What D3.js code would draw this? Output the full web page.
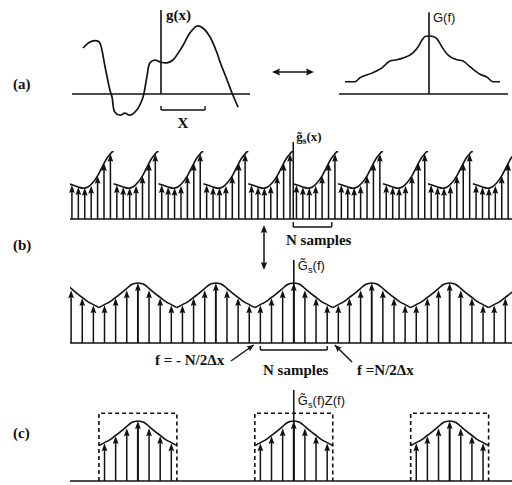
<!DOCTYPE html>
<html><head><meta charset="utf-8">
<script src="https://cdn.jsdelivr.net/npm/d3@7"></script>
<style>body{margin:0;background:#fff} svg{display:block}</style>
</head><body>
<svg id="c" width="512" height="485"></svg>
<script>
// ---------- data ----------
// (a) g(x): x in units of X, amplitude in arbitrary units
const gCurve = [[-1.77,1.15],[-1.61,1.30],[-1.45,1.33],[-1.39,1.28],[-1.27,0.68],[-1.16,0.10],[-1.11,-0.08],
  [-1.05,-0.45],[-0.93,-0.53],[-0.82,-0.48],[-0.70,-0.53],[-0.55,-0.40],[-0.43,-0.15],[-0.39,0],[-0.32,0.43],
  [-0.25,0.78],[-0.14,0.85],[-0.02,0.80],[0.14,0.78],[0.27,0.85],[0.48,1.18],[0.66,1.53],[0.82,1.70],[0.95,1.65],
  [1.11,1.43],[1.27,1.03],[1.34,0.80],[1.50,0.35],[1.61,0.03],[1.75,-0.33]];
// (a) G(f): normalised magnitude
const GCurve = [[-8.4,0.21],[-7.4,0.21],[-6.9,0.28],[-5.7,0.36],[-4.7,0.45],[-3.9,0.57],[-3.2,0.59],[-2.6,0.62],
  [-1.6,0.71],[-1.1,0.81],[-0.7,0.93],[-0.4,0.99],[0,1.0],[0.4,0.99],[0.8,0.95],[1.3,0.81],[1.8,0.69],[2.8,0.59],
  [3.4,0.57],[4.1,0.47],[5.1,0.34],[5.8,0.29],[6.4,0.21],[7.1,0.21]];
// (b) sampled, periodic g~s(x): N = 7 samples per period
const gsSamples = [0.85, 0.80, 0.78, 0.83, 1.08, 1.40, 1.63];
const gsPeriodCurve = [[0,0.88],[0.6,0.85],[1.5,0.80],[2.3,0.77],[3.0,0.80],[3.7,0.90],[4.5,1.08],[5.3,1.33],
  [6.0,1.53],[6.5,1.63],[6.8,1.68],[7.0,1.68]];
const gsPeriods = [-5,-4,-3,-2,-1,0,1,2,3,4];
// (b) G~s(f): samples of one period (offsets -3..3) and lobe envelope
const GsSamples = [0.63, 0.75, 0.88, 1.0, 0.88, 0.75, 0.63];
const GsLobe = [[-3.5,0.59],[-3,0.64],[-2.5,0.69],[-2,0.76],[-1.5,0.83],[-1,0.91],[-0.6,0.97],[-0.3,0.993],[0,1.0],
  [0.3,0.993],[0.6,0.97],[1,0.91],[1.5,0.83],[2,0.76],[2.5,0.69],[3,0.64],[3.5,0.59]];
const GsPeriods = [-3,-2,-1,0,1,2,3];
// (c) periods kept by Z(f)
const keptPeriods = [-2, 0, 2];
const boxHeight = 1.13;
const panelLabels = ["(a)", "(b)", "(c)"];

// ---------- drawing ----------
const svg = d3.select("#c");
svg.append("rect").attr("width",512).attr("height",485).attr("fill","#fff");
const ink = "#111";
const serif = "'Liberation Serif','Times New Roman',serif";
const sans = "'Liberation Sans',Arial,sans-serif";
const N = 7;
const mod = (a,b)=>((a%b)+b)%b;
const smooth = d3.line().curve(d3.curveCatmullRom.alpha(0.5));
const mono = d3.line().curve(d3.curveMonotoneX);

const defs = svg.append("defs");
defs.append("clipPath").attr("id","clipX").append("rect").attr("x",70).attr("y",0).attr("width",442).attr("height",485);

function hline(g,x0,x1,y,w){g.append("line").attr("x1",x0).attr("x2",x1).attr("y1",y).attr("y2",y).attr("stroke",ink).attr("stroke-width",w||1.6);}
function vline(g,x,y0,y1,w){g.append("line").attr("x1",x).attr("x2",x).attr("y1",y0).attr("y2",y1).attr("stroke",ink).attr("stroke-width",w||1.4);}
function head(g,x,y,angle,len,hw){
  const c=Math.cos(angle), s=Math.sin(angle);
  const bx=x-c*len, by=y-s*len;
  const pts=[[x,y],[bx-s*hw,by+c*hw],[bx+c*1.2,by+s*1.2],[bx+s*hw,by-c*hw]];
  g.append("path").attr("d","M"+pts.map(p=>p.join(",")).join("L")+"Z").attr("fill",ink);
}
function stem(g,x,yBase,yTip,w){
  vline(g,x,yBase,yTip+5,w||1.5);
  head(g,x,yTip,-Math.PI/2,8,2.9);
}
function pointer(g,x0,y0,x1,y1){
  g.append("line").attr("x1",x0).attr("y1",y0).attr("x2",x1).attr("y2",y1).attr("stroke",ink).attr("stroke-width",1.4);
  head(g,x1,y1,Math.atan2(y1-y0,x1-x0),7,3);
}
function label(txt,x,y,font,size,anchor){
  return svg.append("text").attr("x",x).attr("y",y).attr("font-family",font).attr("font-size",size)
    .attr("font-weight","bold").attr("fill",ink).attr("text-anchor",anchor||"start").text(txt);
}
function subLabel(main,sub,rest,x,y,font,size,weight){
  const t=svg.append("text").attr("x",x).attr("y",y).attr("font-family",font).attr("font-size",size)
    .attr("font-weight",weight).attr("fill",ink);
  t.append("tspan").text(main);
  t.append("tspan").attr("dy",3).attr("font-size",size*0.72).text(sub);
  t.append("tspan").attr("dy",-3).text(rest);
  return t;
}

// panel labels
label(panelLabels[0],13,89,serif,15);
label(panelLabels[1],13,250,serif,15);
label(panelLabels[2],13,438,serif,15);

// ----- (a) left: g(x)
const ga=svg.append("g");
const xa=d3.scaleLinear().domain([-2.02,2.02]).range([72,250]);
const ya=d3.scaleLinear().domain([0,1]).range([94,54]);
hline(ga,xa(-2.02),xa(2.02),ya(0),1.6);
vline(ga,xa(0),ya(0),ya(2.1),1.6);
ga.append("path").attr("d",smooth(gCurve.map(d=>[xa(d[0]),ya(d[1])]))).attr("fill","none").attr("stroke",ink).attr("stroke-width",1.7);
const by=ya(-0.4);
hline(ga,xa(0),xa(1),by,1.4); vline(ga,xa(0),by,by-4,1.4); vline(ga,xa(1),by,by-4,1.4);
label("X",xa(0.5),128,serif,15,"middle");
label("g(x)",xa(0)+5,20,serif,15);

// double arrow
const da=svg.append("g");
hline(da,275,311,72,1.6);
head(da,314,72,0,8,3.4); head(da,272,72,Math.PI,8,3.4);

// ----- (a) right: G(f)
const gb=svg.append("g");
const xG=d3.scaleLinear().domain([-9,7.9]).range([339,508]);
const yG=d3.scaleLinear().domain([0,1]).range([94,36]);
hline(gb,xG(-9),xG(7.9),yG(0),1.4);
vline(gb,xG(0),yG(0),yG(1.41),1.6);
gb.append("path").attr("d",mono(GCurve.map(d=>[xG(d[0]),yG(d[1])]))).attr("fill","none").attr("stroke",ink).attr("stroke-width",1.6);
svg.append("text").attr("x",xG(0)+4).attr("y",22).attr("font-family",sans).attr("font-size",13).attr("fill",ink).text("G(f)");

// ----- (b) top: g~s(x)
const gc=svg.append("g");
const xs=d3.scaleLinear().domain([-35.3,33.6]).range([70,512]);
const ys=d3.scaleLinear().domain([0,1]).range([219,179]);
const gcc=gc.append("g").attr("clip-path","url(#clipX)");
gsPeriods.forEach(m=>{
  const s=N*m-0.5;
  gcc.append("path").attr("d",smooth(gsPeriodCurve.map(d=>[xs(s+d[0]),ys(d[1])]))).attr("fill","none").attr("stroke",ink).attr("stroke-width",1.6);
});
d3.range(-35,34).forEach(n=>stem(gc,xs(n),ys(0),ys(gsSamples[mod(n,N)])));
vline(gc,xs(-0.5),ys(0),142,1.5);
hline(gc,70,512,ys(0),1.7);
subLabel("g\u0303","s","(x)",xs(-0.5)+3,141,serif,13,"bold");
const b2=227;
hline(gc,xs(-0.5),xs(5.5),b2,1.4); vline(gc,xs(-0.5),b2,b2-5,1.4); vline(gc,xs(5.5),b2,b2-5,1.4);
label("N samples",286,245,serif,15);

// vertical double arrow
const va=svg.append("g");
vline(va,264,229,266,1.5);
head(va,264,225,-Math.PI/2,8,3.2); head(va,264,270,Math.PI/2,8,3.2);

// ----- (b) bottom: G~s(f)
const gd=svg.append("g");
const xf=d3.scaleLinear().domain([-20.1,19.6]).range([70,512]);
const yf=d3.scaleLinear().domain([0,1]).range([343,283]);
const gdc=gd.append("g").attr("clip-path","url(#clipX)");
GsPeriods.forEach(m=>{
  gdc.append("path").attr("d",mono(GsLobe.map(d=>[xf(N*m+d[0]),yf(d[1])]))).attr("fill","none").attr("stroke",ink).attr("stroke-width",1.6);
});
d3.range(-20,20).forEach(k=>stem(gd,xf(k),yf(0),yf(GsSamples[mod(k+3,N)]),mod(k,N)===0?1.9:1.5));
vline(gd,xf(0),yf(0),260,1.6);
hline(gd,70,512,yf(0),1.7);
subLabel("G\u0303","s","(f)",xf(0)+4,270,sans,13,"normal");
const b3=350;
hline(gd,xf(-3),xf(3),b3,1.4); vline(gd,xf(-3),b3,b3-4,1.4); vline(gd,xf(3),b3,b3-4,1.4);
label("N samples",263,375,serif,15);
label("f = - N/2\u0394x",155,365,serif,15);
label("f =N/2\u0394x",357,375,serif,15);
pointer(gd,231,361,xf(-3.5)-1,yf(0)+2);
pointer(gd,352,362,xf(3.5)+2,yf(0)+2);

// ----- (c): G~s(f)Z(f)
const ge=svg.append("g");
const yc=d3.scaleLinear().domain([0,1]).range([481,421]);
keptPeriods.forEach(m=>{
  const c=N*m;
  const x0=xf(c-3.5), x1=xf(c+3.5), yt=yc(boxHeight);
  ge.append("path").attr("d",`M${x0},${yc(0)}L${x0},${yt}L${x1},${yt}L${x1},${yc(0)}`)
    .attr("fill","none").attr("stroke",ink).attr("stroke-width",1.6).attr("stroke-dasharray","4,3");
  ge.append("path").attr("d",mono(GsLobe.map(d=>[xf(c+d[0]),yc(d[1])]))).attr("fill","none").attr("stroke",ink).attr("stroke-width",1.6);
  d3.range(-3,4).forEach(j=>stem(ge,xf(c+j),yc(0),yc(GsSamples[j+3]),j===0?2:1.5));
});
vline(ge,xf(0),yc(0),390,1.5);
hline(ge,70,512,yc(0),1.7);
subLabel("G\u0303","s","(f)Z(f)",xf(0)+4,405,sans,13,"normal");
</script>
</body></html>
